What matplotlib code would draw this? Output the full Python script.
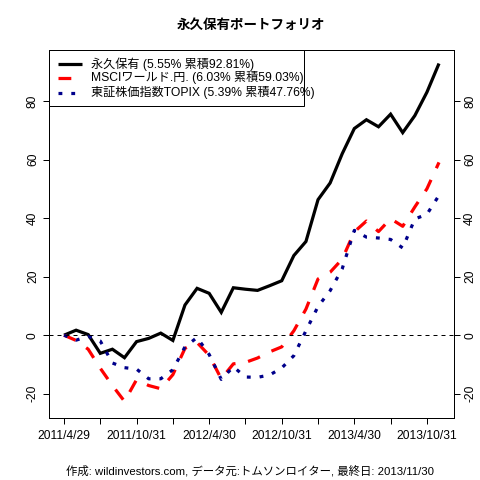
import matplotlib
matplotlib.use("Agg")
import matplotlib.pyplot as plt
from matplotlib.patches import Rectangle
from matplotlib.lines import Line2D

plt.rcParams['font.family'] = ['Liberation Sans', 'Noto Sans CJK JP', 'DejaVu Sans']

# ---- data (monthly, 2011/4 .. 2013/11), cumulative return %
permanent = [0, 1.7, 0.2, -6.2, -4.8, -7.7, -2.2, -1.1, 0.7, -1.8,
             10.3, 16.0, 14.3, 7.8, 16.2, 15.7, 15.3, 16.9, 18.6, 27.2,
             32.0, 46.3, 52.0, 62.0, 70.6, 73.6, 71.2, 75.5, 69.2, 75.0,
             83.0, 92.81]
msci = [0, -1.8, -4.8, -11.3, -17.2, -22.6, -15.2, -17.2, -18.3, -13.5,
        -4.5, -2.5, -6.9, -14.9, -9.8, -9.3, -7.8, -5.7, -4.0, 1.5,
        8.9, 19.2, 21.5, 26.0, 35.3, 39.0, 35.4, 39.8, 37.2, 43.8,
        50.0, 59.03]
topix = [0, -1.7, -0.4, -2.0, -9.5, -11.1, -11.6, -14.9, -14.9, -11.8,
         -4.0, -0.8, -6.6, -15.1, -10.8, -14.3, -14.4, -13.6, -11.2, -7.0,
         1.5, 9.8, 15.2, 22.7, 35.8, 33.5, 33.2, 32.7, 29.8, 39.7,
         41.3, 47.76]
series_names = ["永久保有 (5.55% 累積92.81%)",
                "MSCIワールド.円. (6.03% 累積59.03%)",
                "東証株価指数TOPIX (5.39% 累積47.76%)"]
x_tick_pos = [0, 6, 12, 18, 24, 30]
x_tick_labels = ["2011/4/29", "2011/10/31", "2012/4/30",
                 "2012/10/31", "2013/4/30", "2013/10/31"]
x_minor_pos = [3, 9, 15, 21, 27]
y_ticks = [-20, 0, 20, 40, 60, 80]
title = "永久保有ポートフォリオ"
footer = "作成: wildinvestors.com, データ元:トムソンロイター, 最終日: 2013/11/30"

PX = 0.72  # points per pixel at dpi 100

fig = plt.figure(figsize=(4.8, 4.8), dpi=100)
W = H = 480.0
L, R, T, B = 49.0, 454.0, 49.5, 418.3
ax = fig.add_axes([L / W, 1 - B / H, (R - L) / W, (B - T) / H])

xs = list(range(len(permanent)))
styles = [
    dict(color="black", lw=3.2 * PX, ls="-"),
    dict(color="#FF0000", lw=3.2 * PX, ls=(0, (4, 4))),
    dict(color="#00008B", lw=3.2 * PX, ls=(0, (1.2, 2.8))),
]
for ys, st in zip([permanent, msci, topix], styles):
    ax.plot(xs, ys, color=st["color"], lw=st["lw"], linestyle=st["ls"],
            solid_capstyle="butt", dash_capstyle="butt", solid_joinstyle="miter")

ax.axhline(0, color="black", lw=1 * PX, linestyle=(0, (4, 4)))

ax.set_xlim(-1.24, 32.24)
ax.set_ylim(-28.4, 97.6)

fs = 12 * PX
ax.set_xticks(x_tick_pos)
ax.set_xticklabels(x_tick_labels, fontsize=fs)
ax.set_xticks(x_minor_pos, minor=True)
ax.set_yticks(y_ticks)
ax.set_yticklabels([str(v) for v in y_ticks], fontsize=fs, rotation=90, va="center")
ax.tick_params(axis="both", which="both", direction="out", length=6 * PX,
               width=1 * PX, color="black")
ax.tick_params(axis="x", which="major", pad=6 * PX)
ax.tick_params(axis="y", which="major", pad=4 * PX, left=True, right=True,
               labelleft=True, labelright=True)
for lab in ax.get_yticklabels():
    lab.set_rotation(90)
    lab.set_va("center")
for s in ax.spines.values():
    s.set_linewidth(1 * PX)
    s.set_color("black")

ax.yaxis.set_tick_params(which="major", labelrotation=90)

# ---- legend (manual, R-style)
def fx(px):
    return (px - L) / (R - L)

def fy(py):
    return (B - py) / (B - T)

ax.add_patch(Rectangle((fx(49.0), fy(106.0)), fx(304.3) - fx(49.0), fy(49.5) - fy(106.0),
                       transform=ax.transAxes, fill=True, facecolor="white",
                       edgecolor="black", lw=1 * PX, zorder=5, clip_on=False))
rows = [64.0, 78.0, 92.7]
for name, st, ry in zip(series_names, styles, rows):
    ax.add_line(Line2D([fx(58), fx(82)], [fy(ry), fy(ry)], transform=ax.transAxes,
                       color=st["color"], lw=st["lw"], linestyle=st["ls"],
                       solid_capstyle="butt", dash_capstyle="butt", zorder=6,
                       clip_on=False))
    ax.text(fx(90.7), fy(ry), name, transform=ax.transAxes, fontsize=12.1 * PX,
            va="center", ha="left", zorder=6, clip_on=False)

fig.text(250.5 / W, 1 - 25 / H, title, ha="center", va="center",
         fontsize=13.5 * PX, fontweight="bold")
fig.text(250.5 / W, 1 - 470.7 / H, footer, ha="center", va="center", fontsize=11.4 * PX)

fig.savefig("out.png", dpi=100)
